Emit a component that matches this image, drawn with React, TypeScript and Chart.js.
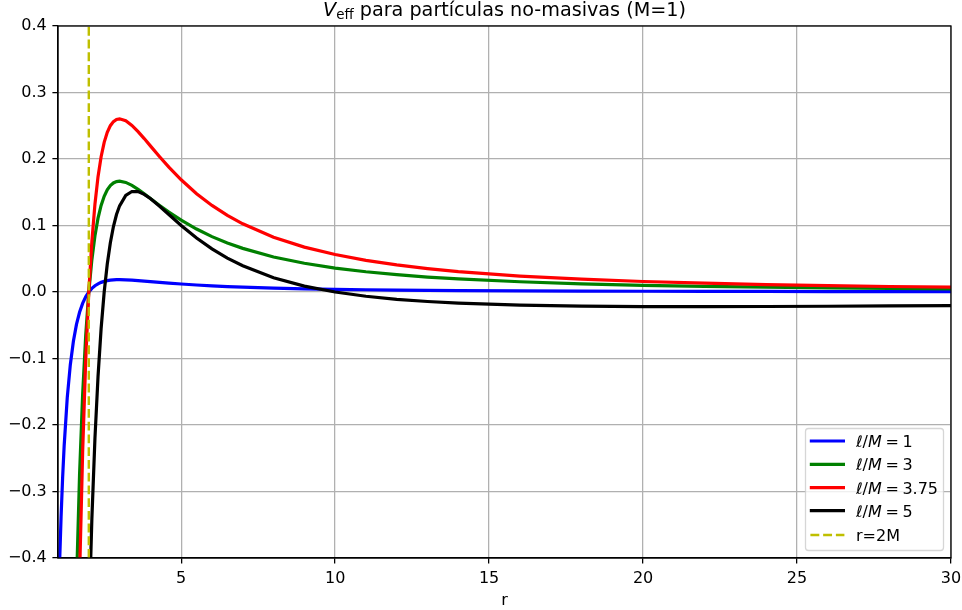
import React, { useEffect, useRef } from "react";
import { Chart, registerables } from "chart.js";

Chart.register(...registerables);

// ---- data ----
const rValues = [1.0, 1.05, 1.1, 1.15, 1.2, 1.3, 1.4, 1.5, 1.6, 1.7, 1.8, 1.9, 2.0, 2.1, 2.2, 2.3, 2.4, 2.5, 2.6, 2.7, 2.8, 2.9, 3.0, 3.2, 3.4, 3.6, 3.8, 4.0, 4.3, 4.6, 5.0, 5.5, 6, 6.5, 7, 8, 9, 10, 11, 12, 13, 14, 16, 18, 20, 22, 24, 26, 28, 30];

const vL1 = [-0.5, -0.4103, -0.3381, -0.2794, -0.2315, -0.1593, -0.1093, -0.0741, -0.0488, -0.0305, -0.0171, -0.0073, 0, 0.0054, 0.0094, 0.0123, 0.0145, 0.016, 0.0171, 0.0178, 0.0182, 0.0185, 0.0185, 0.0183, 0.0178, 0.0171, 0.0164, 0.0156, 0.0145, 0.0134, 0.012, 0.0105, 0.0093, 0.0082, 0.0073, 0.0059, 0.0048, 0.004, 0.0034, 0.0029, 0.0025, 0.0022, 0.0017, 0.0014, 0.0011, 0.0009, 0.0008, 0.0007, 0.0006, 0.0005];

const vL3 = [-4.5, -3.693, -3.043, -2.515, -2.083, -1.434, -0.984, -0.667, -0.4395, -0.2748, -0.1543, -0.0656, 0, 0.0486, 0.0845, 0.111, 0.1302, 0.144, 0.1536, 0.16, 0.164, 0.1661, 0.1667, 0.1648, 0.1603, 0.1543, 0.1476, 0.1406, 0.1302, 0.1202, 0.108, 0.0947, 0.0833, 0.0737, 0.0656, 0.0527, 0.0432, 0.036, 0.0304, 0.026, 0.0225, 0.0197, 0.0154, 0.0123, 0.0101, 0.0085, 0.0072, 0.0061, 0.0053, 0.0047];

const vL375 = [-7.031, -5.77, -4.754, -3.93, -3.255, -2.24, -1.538, -1.042, -0.6866, -0.4293, -0.2411, -0.1025, 0, 0.0759, 0.1321, 0.1734, 0.2035, 0.225, 0.24, 0.2501, 0.2562, 0.2595, 0.2604, 0.2575, 0.2505, 0.2411, 0.2307, 0.2197, 0.2034, 0.1878, 0.1688, 0.1479, 0.1302, 0.1152, 0.1025, 0.0824, 0.0675, 0.0563, 0.0475, 0.0407, 0.0352, 0.0307, 0.024, 0.0193, 0.0158, 0.0132, 0.0112, 0.0096, 0.0083, 0.0073];

const vL5 = [-13.5, -11.21, -9.361, -7.856, -6.62, -4.752, -3.448, -2.519, -1.846, -1.352, -0.984, -0.709, -0.5, -0.341, -0.22, -0.127, -0.055, 0, 0.0421, 0.0742, 0.0984, 0.1165, 0.1296, 0.1453, 0.1511, 0.1509, 0.1469, 0.1406, 0.129, 0.1165, 0.1, 0.0811, 0.0648, 0.051, 0.0394, 0.0215, 0.0089, 0, -0.0064, -0.011, -0.0143, -0.0168, -0.0198, -0.0213, -0.0219, -0.022, -0.0218, -0.0214, -0.0209, -0.0204];

const lLabels = ["1", "3", "3.75", "5"];
const horizonR = 2;
const horizonLabel = "r=2M";
const xTicks = [5, 10, 15, 20, 25, 30];
const yTicks = [-0.4, -0.3, -0.2, -0.1, 0.0, 0.1, 0.2, 0.3, 0.4];
const xRange = [1, 30];
const yRange = [-0.4, 0.4];
const titleMain = "V";
const titleSub = "eff";
const titleRest = " para partículas no-masivas (M=1)";
const xLabel = "r";

// ---- styles ----
const FAMILY = '"DejaVu Sans", sans-serif';
const FS = 16;
const TITLE_FS = 19.2;
const LW = 3.2;
const seriesColors = ["#0000ff", "#008000", "#ff0000", "#000000"];
const horizonColor = "#bfbf00";
const DASH = [8.9, 3.84];

type Run = { text: string; italic?: boolean; size: number; dy?: number; pre?: number };

function drawRuns(ctx: CanvasRenderingContext2D, runs: Run[], x: number, y: number, align: "left" | "center") {
  const widths = runs.map((r) => {
    ctx.font = `${r.italic ? "italic " : ""}${r.size}px ${FAMILY}`;
    return ctx.measureText(r.text).width + (r.pre || 0);
  });
  const total = widths.reduce((a, b) => a + b, 0);
  let cx = align === "center" ? x - total / 2 : x;
  ctx.textAlign = "left";
  ctx.textBaseline = "alphabetic";
  runs.forEach((r, i) => {
    ctx.font = `${r.italic ? "italic " : ""}${r.size}px ${FAMILY}`;
    ctx.fillText(r.text, cx + (r.pre || 0), y + (r.dy || 0));
    cx += widths[i];
  });
}

const decorPlugin = {
  id: "decor",
  afterDatasetsDraw(chart: any) {
    const { ctx, chartArea: ca } = chart;
    ctx.save();
    ctx.strokeStyle = "#000";
    ctx.lineWidth = 1.28;
    ctx.strokeRect(ca.left, ca.top, ca.right - ca.left, ca.bottom - ca.top);
    ctx.restore();
  },
  afterDraw(chart: any) {
    const { ctx, chartArea: ca } = chart;
    const cx = (ca.left + ca.right) / 2;
    ctx.save();
    ctx.fillStyle = "#000";
    // title
    drawRuns(
      ctx,
      [
        { text: titleMain, italic: true, size: TITLE_FS },
        { text: titleSub, size: TITLE_FS * 0.7, dy: 3 },
        { text: titleRest, size: TITLE_FS },
      ],
      cx,
      ca.top - 9.6,
      "center"
    );
    // x label
    drawRuns(ctx, [{ text: xLabel, size: FS }], cx, 605, "center");

    // legend
    const bw = 138;
    const bh = 122;
    const bx = ca.right - 8 - bw;
    const by = ca.bottom - 8 - bh;
    ctx.beginPath();
    (ctx as any).roundRect(bx + 0.5, by + 0.5, bw, bh, 3);
    ctx.fillStyle = "rgba(255,255,255,0.8)";
    ctx.fill();
    ctx.strokeStyle = "rgba(204,204,204,0.8)";
    ctx.lineWidth = 1.28;
    ctx.stroke();

    const rowY = [by + 13, by + 36.3, by + 59.7, by + 82.7, by + 107];
    const hx0 = bx + 6.4;
    const hx1 = bx + 38.4;
    const tx = bx + 51;
    lLabels.forEach((v, i) => {
      ctx.beginPath();
      ctx.strokeStyle = seriesColors[i];
      ctx.lineWidth = LW;
      ctx.lineCap = "square";
      ctx.setLineDash([]);
      ctx.moveTo(hx0, rowY[i]);
      ctx.lineTo(hx1, rowY[i]);
      ctx.stroke();
      ctx.fillStyle = "#000";
      drawRuns(
        ctx,
        [
          { text: "ℓ", italic: true, size: FS },
          { text: "/", size: FS },
          { text: "M", italic: true, size: FS },
          { text: "=", size: FS, pre: 3.6 },
          { text: v, size: FS, pre: 3.6 },
        ],
        tx,
        rowY[i] + 5.8,
        "left"
      );
    });
    ctx.beginPath();
    ctx.strokeStyle = horizonColor;
    ctx.lineWidth = 2.4;
    ctx.lineCap = "butt";
    ctx.setLineDash(DASH);
    ctx.moveTo(hx0 - 1, rowY[4]);
    ctx.lineTo(hx1 + 1, rowY[4]);
    ctx.stroke();
    ctx.setLineDash([]);
    ctx.fillStyle = "#000";
    drawRuns(ctx, [{ text: horizonLabel, size: FS }], tx, rowY[4] + 5.8, "left");
    ctx.restore();
  },
};

function fmtY(v: number) {
  const s = Math.abs(v) < 1e-9 ? "0.0" : v.toFixed(1);
  return s.replace("-", "\u2212");
}

export default function App() {
  const ref = useRef<HTMLCanvasElement | null>(null);
  useEffect(() => {
    if (!ref.current) return;
    const series = [vL1, vL3, vL375, vL5];
    const datasets: any[] = series.map((vals, i) => ({
      label: "l/M = " + lLabels[i],
      data: rValues.map((r, j) => ({ x: r, y: vals[j] })),
      borderColor: seriesColors[i],
      borderWidth: LW,
      pointRadius: 0,
      tension: 0,
      fill: false,
      clip: 0,
      order: 10 - i,
    }));
    datasets.push({
      label: horizonLabel,
      data: [
        { x: horizonR, y: yRange[0] },
        { x: horizonR, y: yRange[1] },
      ],
      borderColor: horizonColor,
      borderWidth: 2.4,
      borderDash: DASH,
      pointRadius: 0,
      fill: false,
      clip: 0,
      order: 1,
    });

    const chart = new Chart(ref.current, {
      type: "line",
      data: { datasets },
      options: {
        animation: false,
        responsive: false,
        devicePixelRatio: 1,
        parsing: false,
        layout: { padding: { top: 26, right: 11, left: 0, bottom: 0 } },
        plugins: {
          legend: { display: false },
          title: { display: false },
          tooltip: { enabled: false },
        },
        scales: {
          x: {
            type: "linear",
            min: xRange[0],
            max: xRange[1],
            afterBuildTicks: (s: any) => {
              s.ticks = xTicks.map((v) => ({ value: v }));
            },
            afterFit: (s: any) => {
              s.height = 52;
              s.paddingLeft = 0;
              s.paddingRight = 0;
            },
            ticks: {
              autoSkip: false,
              maxRotation: 0,
              padding: 5.6,
              color: "#000",
              font: { family: FAMILY, size: FS },
              callback: (v: any) => String(v),
            },
            grid: { color: "#b0b0b0", lineWidth: 1.28, tickLength: 5.6, tickColor: "#000", tickWidth: 1.28 },
            border: { display: true, color: "#000", width: 1.28 },
          },
          y: {
            type: "linear",
            min: yRange[0],
            max: yRange[1],
            afterBuildTicks: (s: any) => {
              s.ticks = yTicks.map((v) => ({ value: v }));
            },
            afterFit: (s: any) => {
              s.width = 58;
              s.paddingTop = 0;
              s.paddingBottom = 0;
            },
            ticks: {
              autoSkip: false,
              padding: 5.6,
              color: "#000",
              font: { family: FAMILY, size: FS },
              callback: (v: any) => fmtY(Number(v)),
            },
            grid: { color: "#b0b0b0", lineWidth: 1.28, tickLength: 5.6, tickColor: "#000", tickWidth: 1.28 },
            border: { display: true, color: "#000", width: 1.28 },
          },
        },
      } as any,
      plugins: [decorPlugin],
    });
    return () => chart.destroy();
  }, []);

  return (
    <div style={{ position: "fixed", left: 0, top: 0, width: 962, height: 610, background: "#fff" }}>
      <canvas ref={ref} width={962} height={610} style={{ display: "block" }} />
    </div>
  );
}
